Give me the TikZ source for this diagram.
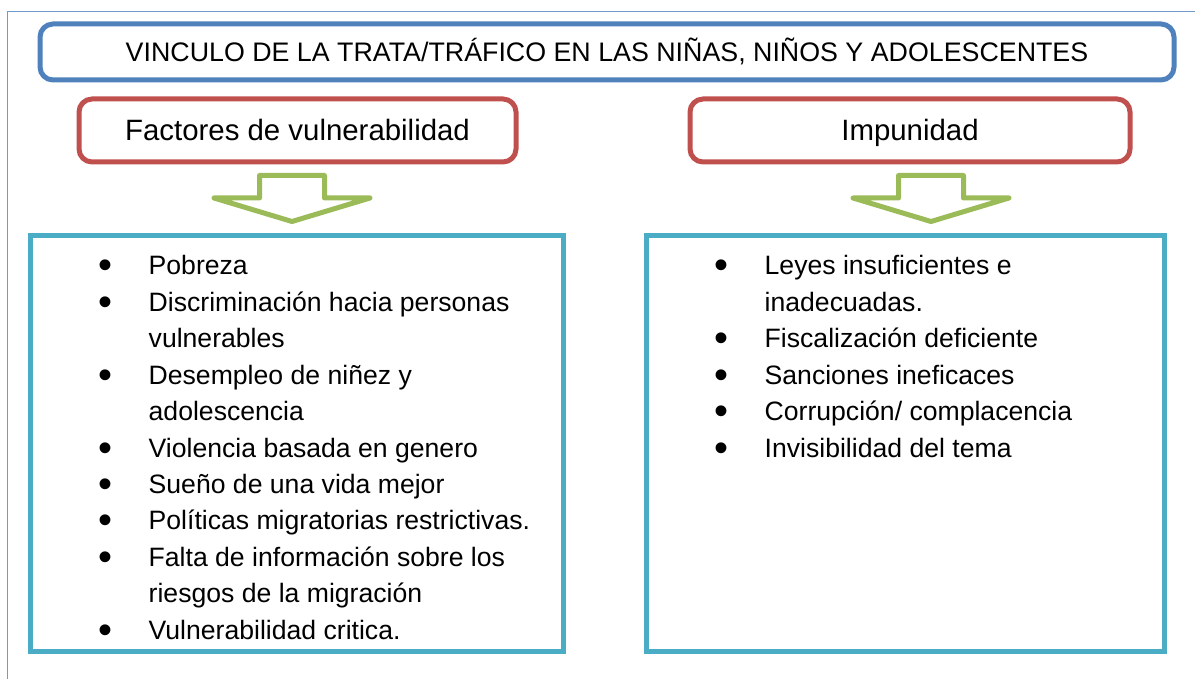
\documentclass[tikz,border=0pt]{standalone}
\usepackage{fontspec}
\setmainfont{Liberation Sans}
\usetikzlibrary{positioning}

\definecolor{titleblue}{HTML}{4F81BD}
\definecolor{headred}{HTML}{C0504D}
\definecolor{listcyan}{HTML}{4BACC6}
\definecolor{arrowgreen}{HTML}{9BBB59}

\newcommand{\bul}{\llap{\raisebox{-4pt}{\scalebox{1.5}{\textbullet}}\hspace{35.8pt}}}

\begin{document}
\begin{tikzpicture}[x=1pt, y=-1pt,
  titlebox/.style={draw=titleblue, line width=5pt, rounded corners=13pt, inner sep=0pt,
    text height=19pt, text depth=0pt, font=\fontsize{26.8}{32}\selectfont},
  headbox/.style={draw=headred, line width=5pt, rounded corners=13pt, inner sep=0pt,
    minimum height=63pt, text height=21pt, text depth=0pt, font=\fontsize{29.4}{35}\selectfont},
  listbox/.style={draw=listcyan, line width=5pt, inner sep=0pt, minimum height=415pt},
  listline/.style={anchor=base west, inner sep=0pt, font=\fontsize{26.6}{36.4}\selectfont},
  blockarrow/.style={draw=arrowgreen, line width=5pt, line join=round}]

  \useasboundingbox (0,0) rectangle (1195,679);

  % Frame
  \draw[titleblue!80, line width=1.5pt] (7.5,679) -- (7.5,11.5) -- (1195,11.5);

  % Boxes
  \node (title) [titlebox, minimum width=1134pt, minimum height=56pt] at (607,52)
    {VINCULO DE LA TRATA/TRÁFICO EN LAS NIÑAS, NIÑOS Y ADOLESCENTES};
  \node (factores) [headbox, minimum width=437pt] at (297.5,130.5) {Factores de vulnerabilidad};
  \node (impunidad) [headbox, minimum width=440pt] at (910,130.5) {Impunidad};
  \node (listleft) [listbox, minimum width=533pt] at (296.5,443.5) {};
  \node (listright) [listbox, minimum width=518pt] at (905,443.5) {};

  % Arrows
  \foreach \cx in {292,931}
    \draw[blockarrow] (\cx-32.5,175.5) -- (\cx+32.5,175.5) -- (\cx+32.5,198) -- (\cx+78,198)
      -- (\cx,221.5) -- (\cx-78,198) -- (\cx-32.5,198) -- cycle;

  % Lists
  \foreach \txt [count=\k from 0] in {{\bul Pobreza}, {\bul Discriminación hacia personas},
      {vulnerables}, {\bul Desempleo de niñez y}, {adolescencia}, {\bul Violencia basada en genero},
      {\bul Sueño de una vida mejor}, {\bul Políticas migratorias restrictivas.},
      {\bul Falta de información sobre los}, {riesgos de la migración}, {\bul Vulnerabilidad critica.}}
    \node (left\k) [listline] at (148.5,275+36.4*\k) {\txt};

  \foreach \txt [count=\k from 0] in {{\bul Leyes insuficientes e}, {inadecuadas.},
      {\bul Fiscalización deficiente}, {\bul Sanciones ineficaces},
      {\bul Corrupción/ complacencia}, {\bul Invisibilidad del tema}}
    \node (right\k) [listline] at (764.5,275+36.4*\k) {\txt};

\end{tikzpicture}
\end{document}
